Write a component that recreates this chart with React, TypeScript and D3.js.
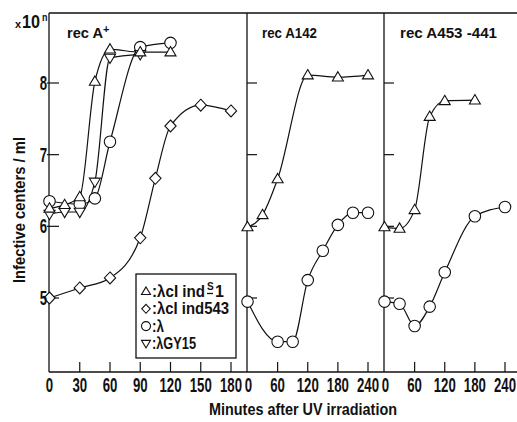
import React from "react";
import * as d3 from "d3";

const W = 517;
const H = 422;

// y values are log10 of infective centers / ml
const yTicks = [5, 6, 7, 8];
const ticksA = [0, 30, 60, 90, 120, 150, 180];
const ticksB = [0, 60, 120, 180, 240];

// rec A+
const aUpT = [0, 15, 30, 45, 60, 90, 120];
const aUpV = [6.25, 6.3, 6.41, 8.02, 8.47, 8.43, 8.43];
const aDownT = [0, 15, 30, 45, 60, 90];
const aDownV = [6.17, 6.2, 6.2, 6.62, 8.35, 8.4];
const aCircT = [0, 30, 45, 60, 90, 120];
const aCircV = [6.35, 6.31, 6.39, 7.18, 8.5, 8.56];
const aDiaT = [0, 30, 60, 90, 105, 120, 150, 180];
const aDiaV = [5.0, 5.14, 5.28, 5.84, 6.67, 7.4, 7.69, 7.61];

// rec A142
const bUpT = [0, 30, 60, 120, 180, 240];
const bUpV = [5.99, 6.16, 6.66, 8.11, 8.08, 8.11];
const bCircT = [0, 60, 90, 120, 150, 180, 210, 240];
const bCircV = [4.95, 4.39, 4.39, 5.25, 5.66, 6.02, 6.19, 6.19];

// rec A453-441
const cUpT = [0, 30, 60, 90, 120, 180];
const cUpV = [5.99, 5.97, 6.23, 7.53, 7.75, 7.76];
const cCircT = [0, 30, 60, 90, 120, 180, 240];
const cCircV = [4.95, 4.92, 4.61, 4.88, 5.36, 6.14, 6.27];

const zip = (t: number[], v: number[]) => t.map((d, i) => [d, v[i]] as [number, number]);

const FONT = "'Liberation Sans', Arial, sans-serif";
const WEIGHT = 700;
const TOP = 13;
const BOTTOM = 372;

const y = d3.scaleLinear().domain([5, 8]).range([298, 83]);

const panels = [
  {
    label: "rec A",
    sup: "+",
    labelX: 67,
    labelW: 43,
    left: 49,
    x: d3.scaleLinear().domain([0, 180]).range([49.5, 231]),
    ticks: ticksA,
    series: [
      { shape: "dia", pts: zip(aDiaT, aDiaV) },
      { shape: "circ", pts: zip(aCircT, aCircV) },
      { shape: "down", pts: zip(aDownT, aDownV) },
      { shape: "up", pts: zip(aUpT, aUpV) },
    ],
  },
  {
    label: "rec A142",
    sup: "",
    labelX: 262,
    labelW: 55,
    left: 247,
    x: d3.scaleLinear().domain([0, 240]).range([247.5, 368]),
    ticks: ticksB,
    series: [
      { shape: "up", pts: zip(bUpT, bUpV) },
      { shape: "circ", pts: zip(bCircT, bCircV) },
    ],
  },
  {
    label: "rec A453 -441",
    sup: "",
    labelX: 400,
    labelW: 97,
    left: 384,
    x: d3.scaleLinear().domain([0, 240]).range([384.5, 505]),
    ticks: ticksB,
    series: [
      { shape: "up", pts: zip(cUpT, cUpV) },
      { shape: "circ", pts: zip(cCircT, cCircV) },
    ],
  },
];

const markerPath = (shape: string, s: number) => {
  const h = s * 0.85;
  if (shape === "up") return `M0,${-h * 0.6}L${s / 2},${h * 0.4}L${-s / 2},${h * 0.4}Z`;
  if (shape === "down") return `M0,${h * 0.6}L${s / 2},${-h * 0.4}L${-s / 2},${-h * 0.4}Z`;
  if (shape === "dia") return `M0,${-s / 2}L${s * 0.47},0L0,${s / 2}L${-s * 0.47},0Z`;
  const r = s / 2;
  return `M${r},0A${r},${r} 0 1,1 ${-r},0A${r},${r} 0 1,1 ${r},0Z`;
};

const Marker = ({ shape, cx, cy, s }: any) => (
  <path
    d={markerPath(shape, s)}
    transform={`translate(${cx},${cy})`}
    fill="#fff"
    stroke="#111"
    strokeWidth={1.1}
  />
);

const Num = ({ x, yy, children, anchor = "middle" }: any) => (
  <text
    transform={`translate(${x},${yy}) scale(0.66,1)`}
    textAnchor={anchor}
    fontSize={20}
    fontFamily={FONT}
    fontWeight={WEIGHT}
    fill="#111"
  >
    {children}
  </text>
);

const legendRows = [
  { shape: "up", text: ":λcI ind", width: 53 },
  { shape: "dia", text: ":λcI ind543", width: 77 },
  { shape: "circ", text: ":λ", width: 12 },
  { shape: "down", text: ":λGY15", width: 44 },
];

export default function App() {
  return (
    <svg
      width={W}
      height={H}
      style={{ position: "absolute", left: 0, top: 0, background: "#fff" }}
    >
      {/* frame */}
      <g stroke="#111" strokeWidth={1.3} fill="none">
        <line x1={49} x2={W} y1={TOP} y2={TOP} />
        <line x1={49} x2={W} y1={BOTTOM} y2={BOTTOM} />
        {panels.map((p) => (
          <line key={p.label} x1={p.left} x2={p.left} y1={TOP} y2={BOTTOM} />
        ))}
      </g>

      {panels.map((p, pi) => {
        const line = d3
          .line<[number, number]>()
          .x((d) => p.x(d[0]))
          .y((d) => y(d[1]))
          .curve(d3.curveMonotoneX);
        return (
          <g key={p.label}>
            {/* y ticks */}
            {yTicks.map((t) => (
              <line
                key={t}
                x1={pi === 0 ? p.left - 2 : p.left}
                x2={p.left + 10}
                y1={y(t)}
                y2={y(t)}
                stroke="#111"
                strokeWidth={1.2}
              />
            ))}
            {/* x ticks */}
            {p.ticks.map((t) => (
              <g key={t}>
                {t !== 0 && (
                  <line
                    x1={p.x(t)}
                    x2={p.x(t)}
                    y1={BOTTOM}
                    y2={BOTTOM - 10}
                    stroke="#111"
                    strokeWidth={1.2}
                  />
                )}
                <Num x={p.x(t) + (pi > 0 && t === 0 ? 1 : 0)} yy={392}>
                  {t}
                </Num>
              </g>
            ))}
            {/* panel label */}
            <text
              x={p.labelX}
              y={38}
              fontSize={15}
              fontFamily={FONT}
              fontWeight={WEIGHT}
              fill="#111"
            >
              <tspan textLength={p.sup ? p.labelW - 7 : p.labelW} lengthAdjust="spacingAndGlyphs">
                {p.label}
              </tspan>
              {p.sup && (
                <tspan dy={-5} fontSize={11}>
                  {p.sup}
                </tspan>
              )}
            </text>
            {/* curves */}
            {p.series.map((s, si) => (
              <path
                key={"l" + si}
                d={line(s.pts) || ""}
                fill="none"
                stroke="#111"
                strokeWidth={1.2}
              />
            ))}
            {p.series.map((s, si) =>
              s.pts.map((d, i) => (
                <Marker
                  key={si + "-" + i}
                  shape={s.shape}
                  cx={p.x(d[0])}
                  cy={y(d[1])}
                  s={s.shape === "circ" ? 11.5 : s.shape === "dia" ? 12 : 11}
                />
              ))
            )}
          </g>
        );
      })}

      {/* y tick labels */}
      {yTicks.map((t) => (
        <Num key={t} x={47} yy={y(t) + 7} anchor="end">
          {t}
        </Num>
      ))}

      {/* x10^n */}
      <text x={15} y={28} fontFamily={FONT} fontWeight={WEIGHT} fill="#111" fontSize={11}>
        x
      </text>
      <text
        x={22}
        y={28}
        fontFamily={FONT}
        fontWeight={WEIGHT}
        fill="#111"
        fontSize={19}
        textLength={18}
        lengthAdjust="spacingAndGlyphs"
      >
        10
      </text>
      <text
        x={42}
        y={21}
        fontFamily={FONT}
        fontWeight={WEIGHT}
        fill="#111"
        fontSize={11}
        textLength={5.5}
        lengthAdjust="spacingAndGlyphs"
      >
        n
      </text>

      {/* axis titles */}
      <text
        x={209}
        y={415}
        fontSize={16}
        fontFamily={FONT}
        fontWeight={WEIGHT}
        fill="#111"
        textLength={188}
        lengthAdjust="spacingAndGlyphs"
      >
        Minutes after  UV irradiation
      </text>
      <text
        transform="translate(25,210) rotate(-90)"
        textAnchor="middle"
        fontSize={17}
        fontFamily={FONT}
        fontWeight={WEIGHT}
        fill="#111"
        textLength={146}
        lengthAdjust="spacingAndGlyphs"
      >
        Infective centers / ml
      </text>

      {/* legend */}
      <rect x={136} y={274} width={100} height={84} fill="#fff" stroke="#111" strokeWidth={1.3} />
      {legendRows.map((r, i) => {
        const by = 297 + i * 17.3;
        return (
          <g key={r.shape}>
            <Marker shape={r.shape} cx={146} cy={by - 5.5} s={9} />
            <text x={152} y={by} fontSize={16} fontFamily={FONT} fontWeight={WEIGHT} fill="#111">
              <tspan textLength={r.width} lengthAdjust="spacingAndGlyphs">
                {r.text}
              </tspan>
            </text>
          </g>
        );
      })}
      {/* ind^S_1 in the first legend row */}
      <text x={207} y={290} fontSize={10} fontFamily={FONT} fontWeight={WEIGHT} fill="#111">
        S
      </text>
      <line x1={207} x2={213} y1={293.5} y2={293.5} stroke="#111" strokeWidth={1.3} />
      <text x={215} y={297} fontSize={16} fontFamily={FONT} fontWeight={WEIGHT} fill="#111">
        1
      </text>
    </svg>
  );
}
